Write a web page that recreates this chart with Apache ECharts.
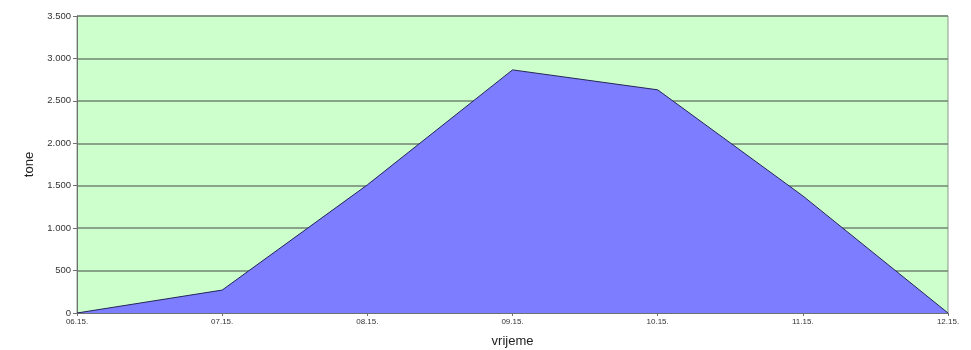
<!DOCTYPE html>
<html>
<head>
<meta charset="utf-8">
<script src="https://cdn.jsdelivr.net/npm/echarts@6/dist/echarts.min.js"></script>
<style>
  html, body { margin: 0; padding: 0; background: #ffffff; }
  #chart { width: 971px; height: 350px; }
</style>
</head>
<body>
<div id="chart"></div>
<script>
// Monthly tonnage, mid-month readings
const categories = ['06.15.', '07.15.', '08.15.', '09.15.', '10.15.', '11.15.', '12.15.'];
const tonnes = [0, 270, 1510, 2865, 2630, 1380, 0];
const yTicks = { min: 0, max: 3500, interval: 500 };

const fmt = v => String(v).replace(/\B(?=(\d{3})+(?!\d))/g, '.');

const chart = echarts.init(document.getElementById('chart'), null, { renderer: 'canvas' });
chart.setOption({
  animation: false,
  grid: {
    left: 77, right: 23, top: 16, bottom: 37,
    outerBoundsMode: 'none',
    containLabel: false,
    show: true,
    backgroundColor: '#ccffcc',
    borderColor: '#8a9a8a',
    borderWidth: 1
  },
  xAxis: {
    type: 'category',
    data: categories,
    boundaryGap: false,
    name: 'vrijeme',
    nameLocation: 'middle',
    nameGap: 22,
    nameTextStyle: { fontFamily: 'Liberation Sans', fontSize: 13, color: '#222' },
    axisLine: { lineStyle: { color: '#707070', width: 1 } },
    axisTick: { show: true, length: 3, lineStyle: { color: '#707070' } },
    axisLabel: { fontFamily: 'Liberation Sans', fontSize: 8, color: '#333', margin: 5 },
    splitLine: { show: false }
  },
  yAxis: {
    type: 'value',
    min: yTicks.min,
    max: yTicks.max,
    interval: yTicks.interval,
    name: 'tone',
    nameLocation: 'middle',
    nameGap: 40,
    nameTextStyle: { fontFamily: 'Liberation Sans', fontSize: 13, color: '#222' },
    axisLine: { show: true, lineStyle: { color: '#707070', width: 1 } },
    axisTick: { show: true, length: 4, lineStyle: { color: '#707070' } },
    axisLabel: { fontFamily: 'Liberation Sans', fontSize: 9.5, color: '#333', margin: 6, formatter: fmt },
    splitLine: { show: true, lineStyle: { color: '#728472', width: 1.5 } }
  },
  series: [{
    type: 'line',
    data: tonnes,
    symbol: 'none',
    lineStyle: { color: '#25255a', width: 1 },
    areaStyle: { color: '#7d7dff', opacity: 1 },
    z: 3
  }]
});
</script>
</body>
</html>
